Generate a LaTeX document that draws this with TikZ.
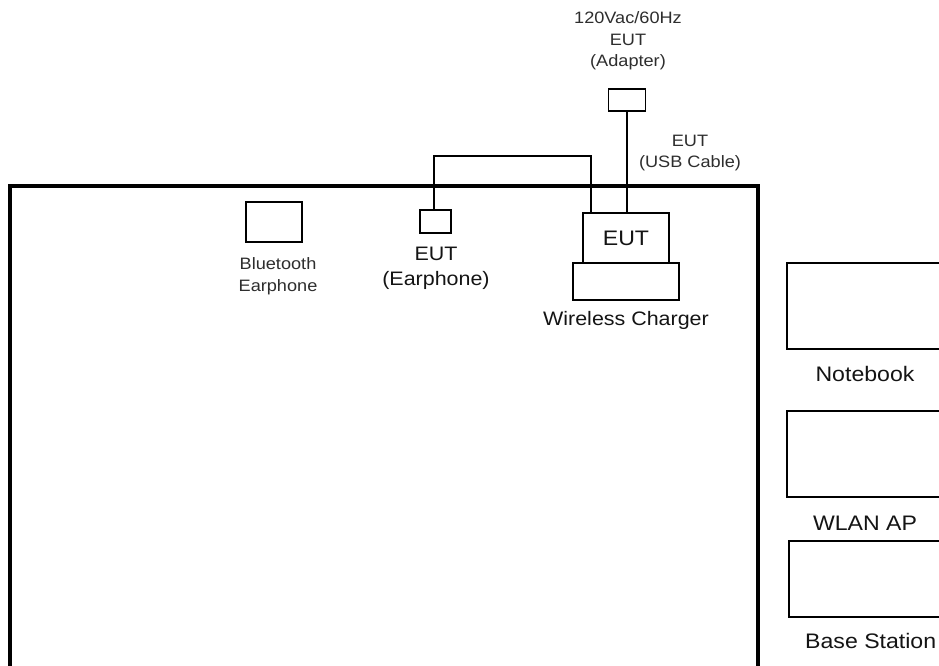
\documentclass[tikz,border=0pt]{standalone}
\usepackage{fontspec}
\setmainfont{Liberation Sans}[FakeStretch=1.1]
\definecolor{txt}{HTML}{141414}
\definecolor{txtsmall}{HTML}{2E2E2E}
\tikzset{
  box/.style={draw=black, line width=1.8pt, fill=white, inner sep=0pt, outer sep=0pt},
  wire/.style={draw=black, line width=1.8pt},
  tableline/.style={draw=black, line width=3.6pt},
  biglabel/.style={text=txt, font=\fontsize{19.5}{25}\selectfont, align=center, inner sep=0pt},
  siderlabel/.style={text=txt, font=\fontsize{21}{25}\selectfont, align=center, inner sep=0pt},
  smalllabel/.style={text=txtsmall, font=\fontsize{16.5}{21.5}\selectfont, align=center, inner sep=0pt}
}
\begin{document}
\begin{tikzpicture}[x=1pt, y=-1pt]
\useasboundingbox (0,0) rectangle (939,666);
\clip (0,0) rectangle (939,666);
\fill[white] (0,0) rectangle (939,666);

% table
\draw[tableline] (10,700) -- (10,186) -- (758,186) -- (758,700);

% devices
\node[box, minimum width=37pt, minimum height=22pt] (adapter) at (627,100) {};
\node[box, minimum width=86pt, minimum height=50pt] (eut) at (626,238) {};
\node[box, minimum width=106pt, minimum height=37pt] (charger) at (626,281.5) {};
\node[box, minimum width=31pt, minimum height=23pt] (earph) at (435.5,221.5) {};
\node[box, minimum width=56pt, minimum height=40pt] (bt) at (274,222) {};
\node[box, minimum width=180pt, minimum height=86pt] (nb) at (877,306) {};
\node[box, minimum width=180pt, minimum height=86pt] (ap) at (877,454) {};
\node[box, minimum width=180pt, minimum height=76pt] (bs) at (879,579) {};

% text in EUT box
\node[siderlabel] (euttext) at (626,238) {EUT};

% connectors
\draw[wire] (adapter.south) -- (adapter.south |- eut.north);
\coordinate (c1) at (591,156);
\coordinate (c2) at (434,156);
\draw[wire] (c1 |- eut.north) -- (c1) -- (c2) -- (c2 |- earph.north);

% labels
\node[smalllabel] (adlabel) at (628,41) {120Vac/60Hz\\EUT\\(Adapter)};
\node[smalllabel] (usblabel) at (690,153) {EUT\\(USB Cable)};
\node[smalllabel] (btlabel) at (278,276) {Bluetooth\\Earphone};
\node[biglabel] (earlabel) at (436,268) {EUT\\(Earphone)};
\node[biglabel] (chlabel) at (626,320) {Wireless Charger};
\node[siderlabel] (nblabel) at (865,374) {Notebook};
\node[siderlabel] (aplabel) at (865,523) {WLAN AP};
\node[siderlabel, anchor=west] (bslabel) at (805,641) {Base Station};
\end{tikzpicture}
\end{document}
